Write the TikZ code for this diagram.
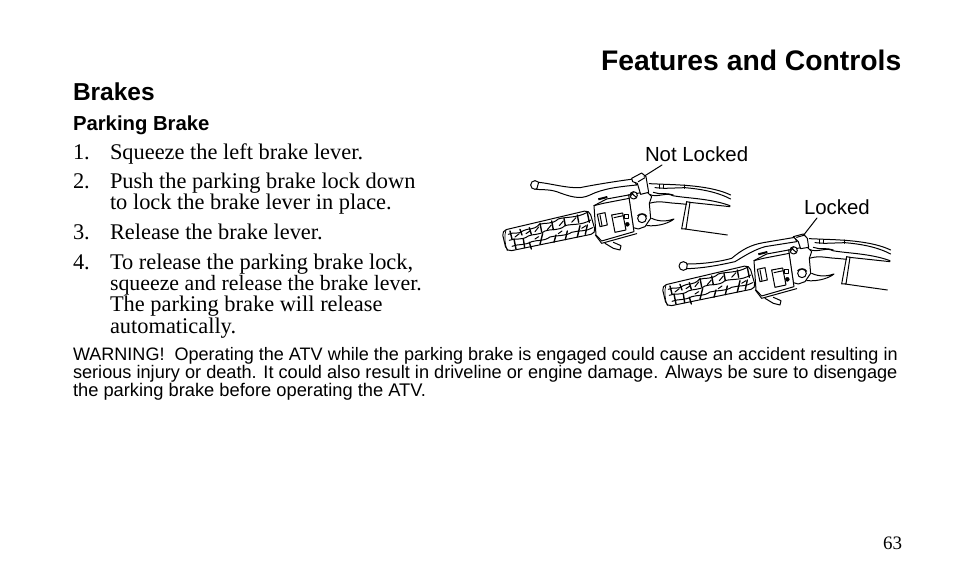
\documentclass[tikz,border=0pt]{standalone}
\usepackage{fontspec}
\setmainfont{Liberation Serif}
\setsansfont{Liberation Sans}
\tikzset{
  txt/.style={anchor=base west,inner sep=0pt,outer sep=0pt},
  title/.style={txt,font=\sffamily\bfseries\fontsize{28.3}{30}\selectfont},
  head/.style={txt,font=\sffamily\bfseries\fontsize{24.5}{26}\selectfont},
  subhead/.style={txt,font=\sffamily\bfseries\fontsize{20.3}{22}\selectfont},
  body/.style={txt,font=\fontsize{22.4}{24}\selectfont},
  warn/.style={txt,font=\sffamily\fontsize{18.05}{20}\selectfont},
  lab/.style={txt,font=\sffamily\fontsize{20.4}{22}\selectfont},
  art/.style={line width=1pt,line join=round,line cap=round,black},
  thin art/.style={line width=0.7pt,line join=round,line cap=round,black},
  heavy art/.style={line width=1.4pt,line join=round,line cap=round,black}
}
\newcommand{\handlebody}{%
  % grip
  \draw[art,fill=white,rounded corners=5pt] (35,287) -- (298,225) -- (318,295) -- (50,350) -- cycle;
  \draw[thin art] (52,347) .. controls (44,325) and (42,305) .. (48,284);
  % grip tread: wavy bands
  \draw[art] (55,298) .. controls (70,290) and (85,300) .. (100,287) .. controls (115,278) and (130,288) .. (148,268)
     .. controls (165,262) and (185,270) .. (205,252) .. controls (225,245) and (260,250) .. (292,232);
  \draw[art] (58,316) .. controls (75,308) and (95,318) .. (115,303) .. controls (130,296) and (145,302) .. (165,288)
     .. controls (185,280) and (205,290) .. (225,272) .. controls (245,266) and (275,272) .. (302,255);
  \draw[art] (66,334) .. controls (85,326) and (105,332) .. (125,320) .. controls (145,314) and (160,320) .. (180,306)
     .. controls (200,300) and (225,305) .. (245,292) .. controls (265,286) and (290,290) .. (308,278);
  % grip tread: dark cross strokes
  \foreach \a/\b/\c/\d in {60/288/66/312,72/312/78/342,90/283/96/300,100/312/104/338,
    118/278/124/298,118/322/124/342,150/265/155/290,158/296/150/328,
    185/258/190/284,198/300/192/322,222/250/226/272,232/288/226/314,
    262/240/266/262,270/272/262/306,292/232/298/262,292/270/286/298}
    {\draw[heavy art] (\a,\b) -- (\c,\d);}
  \foreach \a/\b/\c/\d in {75/306/88/296,108/296/120/288,135/290/146/276,172/284/184/270,208/272/220/258,245/262/258/248,
    135/312/146/305,205/296/216/288,275/280/288/272}
    {\draw[art] (\a,\b) -- (\c,\d);}
  % handlebar right
  \draw[art,fill=white] (590,200) -- (575,282) -- (588,282) -- (600,202) -- cycle;
  \draw[art] (598,202) -- (720,215);
  \draw[art] (585,282) -- (712,300);
  % cables
  \draw[art] (478,146) -- (525,148) .. controls (590,150) and (670,155) .. (722,180);
  \draw[art] (495,158) -- (525,160) -- (585,158) .. controls (630,162) and (680,170) .. (722,192);
  \draw[art] (508,148) -- (508,160) (522,148) -- (522,160);
  \draw[art] (585,150) -- (585,160);
  \draw[art] (478,178) .. controls (500,190) and (530,170) .. (548,182) .. controls (590,190) and (660,190) .. (720,212);
  \draw[art] (478,205) .. controls (510,195) and (535,205) .. (560,205) -- (590,208);
  \draw[art] (490,172) .. controls (510,180) and (530,172) .. (550,180);
  % perch
  \draw[art,fill=white] (415,180) -- (470,170) -- (485,185) -- (478,205) -- (482,250) -- (465,275) -- (445,282) -- (430,278) -- cycle;
  \draw[art] (485,250) .. controls (510,262) and (535,258) .. (552,252) .. controls (540,262) and (510,275) .. (470,272);
  \draw[art,fill=white] (431,181) circle (11);
  \draw[art] (424,174) -- (440,188) (422,183) -- (430,172);
  \draw[art,fill=white] (456,250) circle (13);
  \draw[art] (443,242) .. controls (450,234) and (465,234) .. (470,244);
  % switch box
  \draw[art,fill=white] (312,212) -- (350,192) -- (416,180) -- (432,290) -- (335,318) -- (318,300) -- cycle;
  \draw[art] (312,212) -- (340,205) -- (418,190);
  \draw[line width=2pt] (325,193) -- (352,186);
  \draw[art,fill=white] (322,238) -- (345,233) -- (352,270) -- (330,275) -- cycle;
  \draw[art] (330,240) -- (336,272);
  \draw[art,fill=white] (365,240) -- (398,234) -- (408,285) -- (375,292) -- cycle;
  \draw[art] (372,248) -- (400,242);
  \draw[art,fill=white] (405,238) rectangle (417,250);
  \draw[fill=black] (412,268) circle (6);
  \draw[art] (316,300) -- (335,325) -- (440,296);
  \draw[art] (345,325) -- (370,340) -- (390,345) -- (393,332) -- (370,322);
}
\begin{document}
\begin{tikzpicture}[x=1pt,y=-1pt]
\useasboundingbox[fill=white] (0,0) rectangle (954,588);
\node[title] (t1) at (601,71) {Features and Controls};
\node[head] (t2) at (73,101) {Brakes};
\node[subhead] (t3) at (73,131) {Parking Brake};
\node[body] (n1) at (73,160) {1.};
\node[body] (l1) at (110,160) {Squeeze the left brake lever.};
\node[body] (n2) at (73,189) {2.};
\node[body] (l2) at (110,189) {Push the parking brake lock down};
\node[body] (l2b) at (110,210) {to lock the brake lever in place.};
\node[body] (n3) at (73,240) {3.};
\node[body] (l3) at (110,240) {Release the brake lever.};
\node[body] (n4) at (73,270) {4.};
\node[body] (l4) at (110,270) {To release the parking brake lock,};
\node[body,font=\fontsize{21.85}{24}\selectfont] (l4b) at (110,291) {squeeze and release the brake lever.};
\node[body] (l4c) at (110,312) {The parking brake will release};
\node[body] (l4d) at (110,334) {automatically.};
\node[warn] (w1) at (73,360) {WARNING!\ \ Operating the ATV while the parking brake is engaged could cause an accident resulting in};
\node[warn,font=\sffamily\fontsize{18.17}{20}\selectfont] (w2) at (73,378) {serious injury or death. It could also result in driveline or engine damage. Always be sure to disengage};
\node[warn,font=\sffamily\fontsize{18.3}{20}\selectfont] (w3) at (73,396) {the parking brake before operating the ATV.};
\node[body,font=\fontsize{19}{21}\selectfont] (pg) at (883,549) {63};
% upper hand control
\begin{scope}[shift={(490,135)},x=0.3333pt,y=-0.3333pt]
  \handlebody
  \draw[art,fill=white] (135,150) circle (13);
  \draw[art,fill=white] (146,142) .. controls (180,145) and (230,160) .. (270,158) .. controls (310,150) and (370,140) .. (430,132)
    -- (440,150) .. controls (390,155) and (340,160) .. (300,180) .. controls (270,195) and (240,185) .. (200,170) .. controls (175,162) and (150,165) .. (140,163) -- cycle;
  \draw[art,fill=white] (425,130) -- (455,114) -- (468,125) -- (476,172) -- (452,178) -- (442,145) -- (428,140) -- cycle;
  \draw[art] (445,140) -- (465,128);
  \coordinate (lockA) at (462,124);
\end{scope}
% lower hand control
\begin{scope}[shift={(650,190)},x=0.3333pt,y=-0.3333pt]
  \handlebody
  \draw[art,fill=white] (100,228) circle (13);
  \draw[art,fill=white] (112,222) .. controls (160,222) and (210,215) .. (245,205) .. controls (275,180) and (300,165) .. (340,158) -- (435,142)
    -- (440,155) -- (345,170) .. controls (310,180) and (280,200) .. (255,215) .. controls (210,225) and (160,235) .. (110,236) -- cycle;
  \draw[art,fill=white] (430,140) -- (460,132) -- (472,145) -- (476,172) -- (452,176) -- (445,155) -- cycle;
  \draw[art] (440,142) -- (465,135);
  \coordinate (lockB) at (462,134);
\end{scope}
\node[lab] (nl) at (645,162) {Not Locked};
\node[lab] (lk) at (804,215) {Locked};
\coordinate (nlEnd) at (662,165);
\coordinate (lkEnd) at (817,218);
\draw[art] (nlEnd) -- (lockA);
\draw[art] (lkEnd) -- (lockB);
\end{tikzpicture}
\end{document}
